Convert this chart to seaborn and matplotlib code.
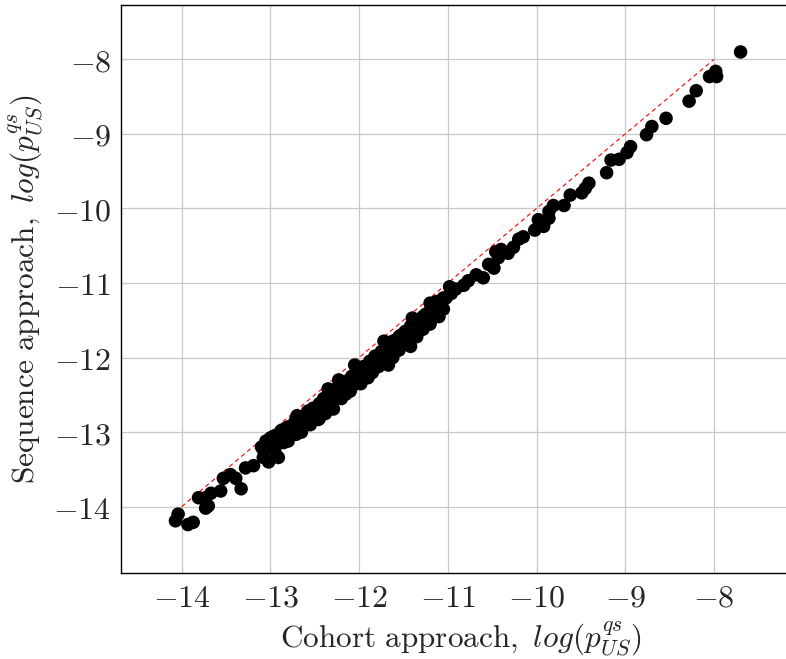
import matplotlib
matplotlib.use("Agg")
import matplotlib.pyplot as plt
import seaborn as sns
import pandas as pd

# ---- data ----
cohort = [
    -7.70, -7.98, -8.05, -7.97, -8.20, -8.28, -8.54, -8.70, -8.76, -8.94,
    -8.98, -9.07, -9.16, -9.21, -9.41, -9.49, -9.45, -9.62, -9.69, -9.81,
    -9.86, -9.86, -9.98, -10.02, -9.92, -10.15, -10.20, -10.26, -10.32, -10.40,
    -10.46, -10.43, -10.54, -10.48, -10.60, -10.68, -10.77, -10.82, -10.91, -10.96,
    -11.05, -11.08, -11.13, -11.19, -11.25, -11.30, -11.36, -11.42, -11.42, -11.47,
    -11.53, -11.58, -11.64, -11.70, -11.67, -11.75, -11.81, -11.87, -11.90, -11.95,
    -12.01, -12.09, -12.15, -12.23, -12.15, -12.21, -12.26, -12.32, -12.29, -12.37,
    -12.43, -12.49, -12.54, -12.46, -12.60, -12.66, -12.71, -12.71, -12.83, -12.88,
    -12.97, -13.02, -13.08, -13.08, -13.02, -12.91, -12.85, -13.19, -13.28, -13.33,
    -13.39, -13.45, -13.53, -13.56, -13.67, -13.73, -13.81, -13.73, -13.70, -14.04,
    -14.07, -13.93, -13.87,
    -13.10, -13.05, -13.00, -12.95, -12.92, -12.88, -12.85, -12.80, -12.78, -12.72,
    -12.70, -12.66, -12.62, -12.58, -12.55, -12.52, -12.48, -12.45, -12.42, -12.40,
    -12.36, -12.33, -12.30, -12.28, -12.25, -12.22, -12.18, -12.15, -12.12, -12.08,
    -12.05, -12.02, -11.98, -11.95, -11.92, -11.88, -11.85, -11.82, -11.78, -11.75,
    -11.72, -11.68, -11.65, -11.62, -11.58, -11.55, -11.52, -11.48, -11.45, -11.42,
    -11.38, -11.35, -11.32, -11.28, -11.25, -11.22, -11.18, -11.15, -11.12, -11.08,
    -11.05, -11.02,
    -12.95, -12.80, -12.65, -12.55, -12.45, -12.38, -12.20, -12.10, -11.98, -11.85,
    -11.78, -11.70, -11.62, -11.55, -11.48, -11.35, -11.28, -11.20, -11.10,
    -12.70, -12.35, -12.05, -11.72, -11.40, -11.20, -10.98,
]
sequence = [
    -7.90, -8.16, -8.23, -8.23, -8.42, -8.56, -8.79, -8.90, -9.01, -9.17,
    -9.25, -9.34, -9.35, -9.52, -9.66, -9.79, -9.73, -9.82, -9.96, -9.96,
    -10.04, -10.13, -10.15, -10.29, -10.24, -10.38, -10.41, -10.52, -10.60, -10.55,
    -10.58, -10.66, -10.75, -10.80, -10.93, -10.89, -10.97, -11.03, -11.08, -11.14,
    -11.20, -11.31, -11.25, -11.37, -11.42, -11.51, -11.54, -11.62, -11.85, -11.65,
    -11.70, -11.76, -11.82, -11.87, -12.10, -11.96, -12.01, -12.10, -12.27, -12.15,
    -12.21, -12.27, -12.32, -12.30, -12.49, -12.41, -12.47, -12.52, -12.69, -12.55,
    -12.61, -12.69, -12.75, -12.83, -12.78, -12.83, -12.89, -13.03, -12.95, -13.00,
    -13.06, -13.14, -13.23, -13.34, -13.40, -13.34, -13.14, -13.45, -13.48, -13.76,
    -13.62, -13.57, -13.62, -13.79, -13.82, -13.88, -13.88, -14.02, -13.99, -14.10,
    -14.19, -14.24, -14.21,
    -13.20, -13.12, -13.08, -13.05, -13.15, -12.98, -13.10, -12.93, -13.02, -12.85,
    -12.98, -12.80, -12.92, -12.72, -12.85, -12.68, -12.80, -12.62, -12.72, -12.55,
    -12.66, -12.48, -12.60, -12.43, -12.55, -12.38, -12.48, -12.33, -12.42, -12.25,
    -12.36, -12.20, -12.28, -12.12, -12.22, -12.05, -12.15, -11.98, -12.08, -11.92,
    -12.00, -11.85, -11.95, -11.78, -11.88, -11.72, -11.80, -11.65, -11.75, -11.58,
    -11.68, -11.52, -11.60, -11.45, -11.55, -11.40, -11.48, -11.33, -11.42, -11.28,
    -11.35, -11.20,
    -13.25, -13.12, -13.00, -12.90, -12.82, -12.75, -12.55, -12.45, -12.35, -12.20,
    -12.12, -12.02, -12.00, -11.90, -11.82, -11.72, -11.62, -11.55, -11.45,
    -12.78, -12.42, -12.10, -11.78, -11.47, -11.27, -11.05,
]
diag = [-14, -8]
ticks = [-14, -13, -12, -11, -10, -9, -8]
tick_labels = ["$-14$", "$-13$", "$-12$", "$-11$", "$-10$", "$-9$", "$-8$"]
x_label = r"$\mathrm{Cohort\ approach,}\ log(p^{qs}_{US})$"
y_label = r"$\mathrm{Sequence\ approach,}\ log(p^{qs}_{US})$"

sns.set_style("white")
plt.rcParams["mathtext.fontset"] = "cm"

fig = plt.figure(figsize=(7.86, 6.59), dpi=100)
# the axes box runs slightly past the right edge of the figure (cropped, as in the reference)
ax = fig.add_axes([121 / 786, 86 / 659, (800 - 121) / 786, (573 - 5) / 659])

df = pd.DataFrame({"cohort": cohort, "sequence": sequence})
ax.plot(diag, diag, color="red", lw=0.8, ls=(0, (4, 3)), zorder=2)
sns.scatterplot(data=df, x="cohort", y="sequence", ax=ax, color="black",
                s=95, edgecolor="none", linewidth=0, zorder=3)

ax.set_xlim(-14.684, -7.03)
ax.set_ylim(-14.89, -7.27)
ax.set_xticks(ticks)
ax.set_yticks(ticks)
ax.set_xticklabels(tick_labels, fontsize=23)
ax.set_yticklabels(tick_labels, fontsize=23)
ax.grid(True, color="#c8c8c8", lw=0.9)
ax.set_axisbelow(True)
ax.tick_params(direction="in", length=3, color="#999999", pad=7)
for s in ["left", "bottom", "top"]:
    ax.spines[s].set_color("black")
    ax.spines[s].set_linewidth(1.0)
ax.spines["right"].set_visible(False)
ax.set_xlabel(x_label, fontsize=22.5, labelpad=4)
ax.set_ylabel(y_label, fontsize=22.5, labelpad=6)

fig.savefig("out.png", dpi=100)
